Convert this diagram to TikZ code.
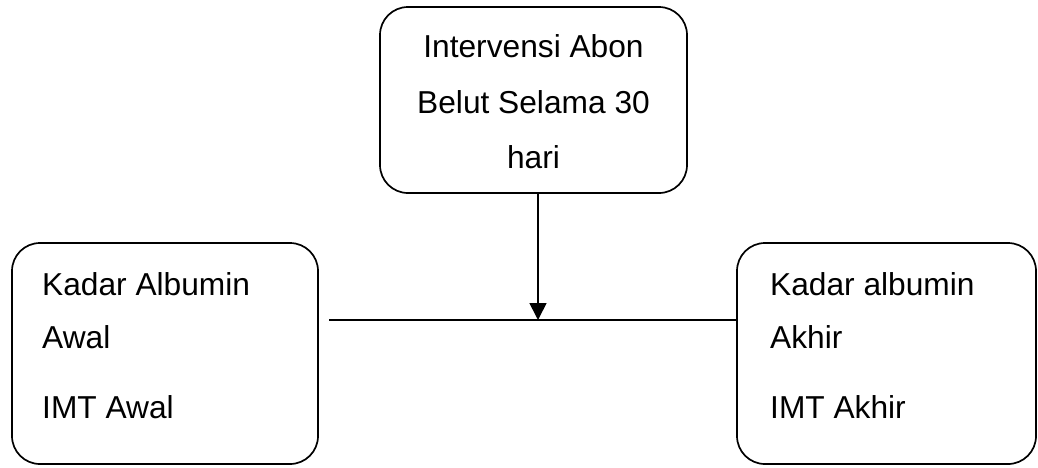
\documentclass[tikz,border=0pt]{standalone}
\usepackage{fontspec}
\setmainfont{Liberation Sans}
\usetikzlibrary{arrows.meta}
\begin{document}
\begin{tikzpicture}[x=1pt,y=-1pt,
  boxstyle/.style={draw,line width=1.7pt,rounded corners=28pt,inner sep=0pt},
  txt/.style={inner sep=0pt,font=\fontsize{31.7}{38}\selectfont},
  conn/.style={line width=1.7pt}]
\useasboundingbox (0,0) rectangle (1038,467);
% boxes
\node[boxstyle,minimum width=307pt,minimum height=186pt] (top) at (533.5,100) {};
\node[boxstyle,minimum width=306pt,minimum height=221pt] (left) at (165,353.5) {};
\node[boxstyle,minimum width=299pt,minimum height=221pt] (right) at (886.5,353.5) {};
% texts
\node[txt,anchor=base] (t1) at (533.5,57) {Intervensi Abon};
\node[txt,anchor=base] (t2) at (533.5,113) {Belut Selama 30};
\node[txt,anchor=base] (t3) at (533.5,168) {hari};
\node[txt,anchor=base west] (l1) at (42,295) {Kadar Albumin};
\node[txt,anchor=base west] (l2) at (42,348) {Awal};
\node[txt,anchor=base west] (l3) at (42,418) {IMT Awal};
\node[txt,anchor=base west] (r1) at (770,295) {Kadar albumin};
\node[txt,anchor=base west] (r2) at (770,348) {Akhir};
\node[txt,anchor=base west] (r3) at (770,418) {IMT Akhir};
% connectors
\coordinate (lstart) at (329,320);
\coordinate (mid) at (538,320);
\draw[conn] (lstart) -- (lstart -| right.west);
\draw[conn,-{Triangle[length=17pt,width=17pt]}] (top.south -| mid) -- (mid);
\end{tikzpicture}
\end{document}
